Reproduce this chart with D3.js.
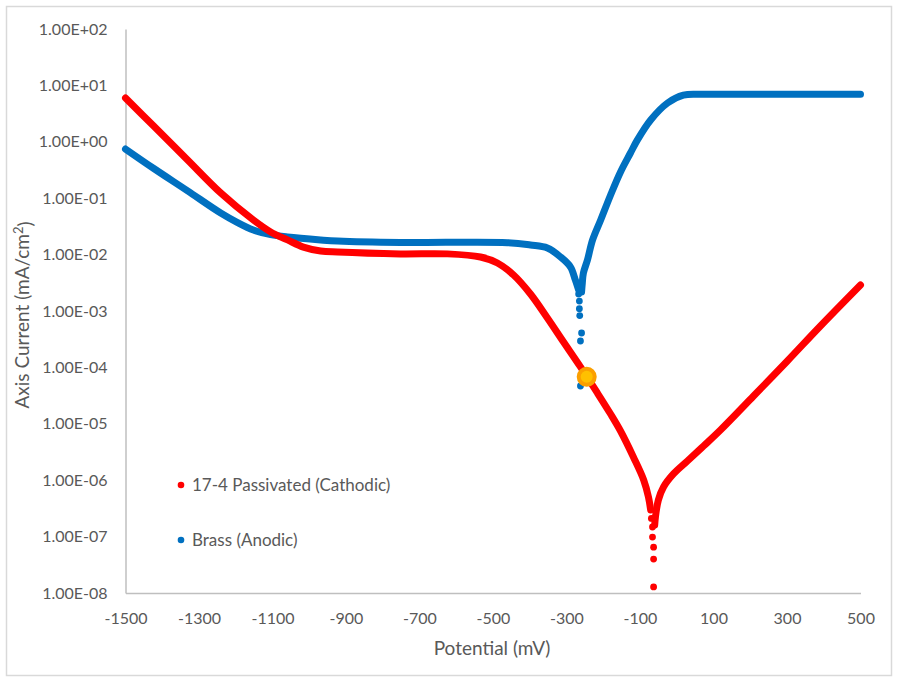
<!DOCTYPE html>
<html>
<head>
<meta charset="utf-8">
<script src="https://cdn.jsdelivr.net/npm/d3@7/dist/d3.min.js"></script>
<style>
  html, body { margin: 0; padding: 0; background: #ffffff; }
  svg { display: block; }
  text { font-family: Lato, "Liberation Sans", sans-serif; fill: #595959; }
</style>
</head>
<body>
<svg id="chart" width="898" height="682"></svg>
<script>
// Axis ticks
const xTickValues = [-1500, -1300, -1100, -900, -700, -500, -300, -100, 100, 300, 500];
const xTickLabels = ["-1500", "-1300", "-1100", "-900", "-700", "-500", "-300", "-100", "100", "300", "500"];
const yTickValues = [1e2, 1e1, 1e0, 1e-1, 1e-2, 1e-3, 1e-4, 1e-5, 1e-6, 1e-7, 1e-8];
const yTickLabels = ["1.00E+02", "1.00E+01", "1.00E+00", "1.00E-01", "1.00E-02", "1.00E-03",
                     "1.00E-04", "1.00E-05", "1.00E-06", "1.00E-07", "1.00E-08"];

// 17-4 Passivated (cathodic): [potential mV, current mA/cm2]
const passivatedFalling = [
  [-1500, 6.0], [-1424, 1.92], [-1331, 0.476], [-1241, 0.124], [-1152, 0.041],
  [-1105, 0.0252], [-1059, 0.0182], [-1016, 0.0136], [-969, 0.0116], [-923, 0.0111],
  [-752, 0.0103], [-624, 0.0103], [-534, 0.00906], [-488, 0.0071], [-444, 0.00435],
  [-398, 0.0020], [-352, 7.52e-4], [-308, 2.82e-4], [-262, 1.02e-4], [-216, 3.52e-5],
  [-180, 1.49e-5], [-153, 7.45e-6], [-118, 2.58e-6], [-90, 1.01e-6], [-77, 5.04e-7],
  [-71, 2.96e-7]
];
const passivatedTip = [
  [-69, 2.1e-7], [-66, 1.48e-7], [-66, 9.8e-8], [-63, 6.5e-8], [-63, 4.0e-8], [-63, 1.28e-8]
];
const passivatedRising = [
  [-60, 1.6e-7], [-58, 2.23e-7], [-50, 4.46e-7], [-36, 7.57e-7], [-9, 1.29e-6], [29, 2.19e-6],
  [73, 4.04e-6], [119, 7.76e-6], [209, 3.11e-5], [301, 1.3e-4], [391, 5.42e-4], [500, 2.89e-3]
];

// Brass (anodic): [potential mV, current mA/cm2]
const brassFalling = [
  [-1500, 0.745], [-1424, 0.34], [-1331, 0.135], [-1241, 0.0547], [-1195, 0.037],
  [-1152, 0.0273], [-1105, 0.0226], [-1059, 0.0205], [-969, 0.0182], [-923, 0.0174],
  [-752, 0.0164], [-461, 0.0163], [-398, 0.0148], [-352, 0.0131], [-316, 0.00906],
  [-289, 0.00602], [-276, 0.00355], [-267, 0.00236]
];
const brassTip = [
  [-267, 0.0020], [-265, 1.5e-3], [-265, 1.1e-3], [-264, 8.3e-4], [-259, 4.07e-4],
  [-262, 2.94e-4], [-262, 4.68e-5]
];
const brassRising = [
  [-259, 0.00217], [-257, 0.00313], [-254, 0.00472], [-243, 0.00802], [-229, 0.0182],
  [-207, 0.041], [-180, 0.114], [-153, 0.292], [-126, 0.633], [-107, 1.08], [-71, 2.44],
  [-25, 4.88], [18, 6.7], [65, 6.95], [200, 6.95], [350, 6.95], [500, 6.95]
];

// Highlighted mixed-potential point
const crossingPoint = [[-245, 6.8e-5]];

const legendItems = [
  { label: "17-4 Passivated (Cathodic)", color: "#ff0000" },
  { label: "Brass (Anodic)", color: "#0070c0" }
];

const svg = d3.select("#chart");
const W = 898, H = 682;
const plot = { left: 125.5, right: 860.5, top: 29, bottom: 593 };

// Chart frame
svg.append("rect")
  .attr("x", 6.5).attr("y", 6.5)
  .attr("width", W - 13).attr("height", H - 13)
  .attr("fill", "#ffffff").attr("stroke", "#d9d9d9").attr("stroke-width", 1.5);

const x = d3.scaleLinear().domain([-1500, 500]).range([plot.left, plot.right]);
const y = d3.scaleLog().domain([1e-8, 1e2]).range([plot.bottom, plot.top]);

// Axes
const xAxis = d3.axisBottom(x).tickValues(xTickValues).tickSize(0)
  .tickFormat((d, i) => xTickLabels[i]);
const yAxis = d3.axisLeft(y).tickValues(yTickValues).tickSize(0).tickPadding(18)
  .tickFormat((d, i) => yTickLabels[i]);

const gx = svg.append("g").attr("transform", `translate(0,${plot.bottom})`).call(xAxis);
const gy = svg.append("g").attr("transform", `translate(${plot.left},0)`).call(yAxis);
[gx, gy].forEach(g => {
  g.select(".domain").attr("stroke", "#bfbfbf").attr("stroke-width", 1.5);
  g.selectAll(".tick text")
    .attr("fill", "#595959")
    .style("font-family", "Lato, 'Liberation Sans', sans-serif")
    .style("font-size", "16px");
});
gx.selectAll(".tick text").attr("y", 20).attr("dy", "0.71em");

// Axis titles
svg.append("text")
  .attr("x", 492).attr("y", 655)
  .attr("text-anchor", "middle")
  .style("font-size", "19px")
  .text("Potential (mV)");

const yTitle = svg.append("text")
  .attr("transform", "translate(29,315) rotate(-90)")
  .attr("text-anchor", "middle")
  .style("font-size", "19px");
yTitle.append("tspan").text("Axis Current (mA/cm");
yTitle.append("tspan").attr("dy", "-0.45em").style("font-size", "13px").text("2");
yTitle.append("tspan").attr("dy", "0.45em").text(")");

// Series
const line = d3.line()
  .x(d => x(d[0]))
  .y(d => y(d[1]))
  .curve(d3.curveCatmullRom.alpha(0.5));

function drawSeries(arms, tip, color) {
  const g = svg.append("g");
  arms.forEach(arm => {
    g.append("path")
      .datum(arm)
      .attr("d", line)
      .attr("fill", "none")
      .attr("stroke", color)
      .attr("stroke-width", 7)
      .attr("stroke-linecap", "round")
      .attr("stroke-linejoin", "round");
  });
  g.selectAll("circle.tip")
    .data(tip)
    .join("circle")
    .attr("class", "tip")
    .attr("cx", d => x(d[0]))
    .attr("cy", d => y(d[1]))
    .attr("r", 3.4)
    .attr("fill", color);
}

drawSeries([brassFalling, brassRising], brassTip, "#0070c0");
drawSeries([passivatedFalling, passivatedRising], passivatedTip, "#ff0000");

// Mixed-potential marker
svg.selectAll("circle.cross")
  .data(crossingPoint)
  .join("circle")
  .attr("class", "cross")
  .attr("cx", d => x(d[0]))
  .attr("cy", d => y(d[1]))
  .attr("r", 8)
  .attr("fill", "#ffc000")
  .attr("stroke", "#fb9f00")
  .attr("stroke-width", 4);

// Legend
const legend = svg.append("g").attr("transform", "translate(181,485)");
legendItems.forEach((item, i) => {
  const row = legend.append("g").attr("transform", `translate(0,${i * 55})`);
  row.append("circle").attr("r", 3.3).attr("fill", item.color);
  row.append("text")
    .attr("x", 11).attr("dy", "0.36em")
    .style("font-size", "17px")
    .text(item.label);
});
</script>
</body>
</html>
